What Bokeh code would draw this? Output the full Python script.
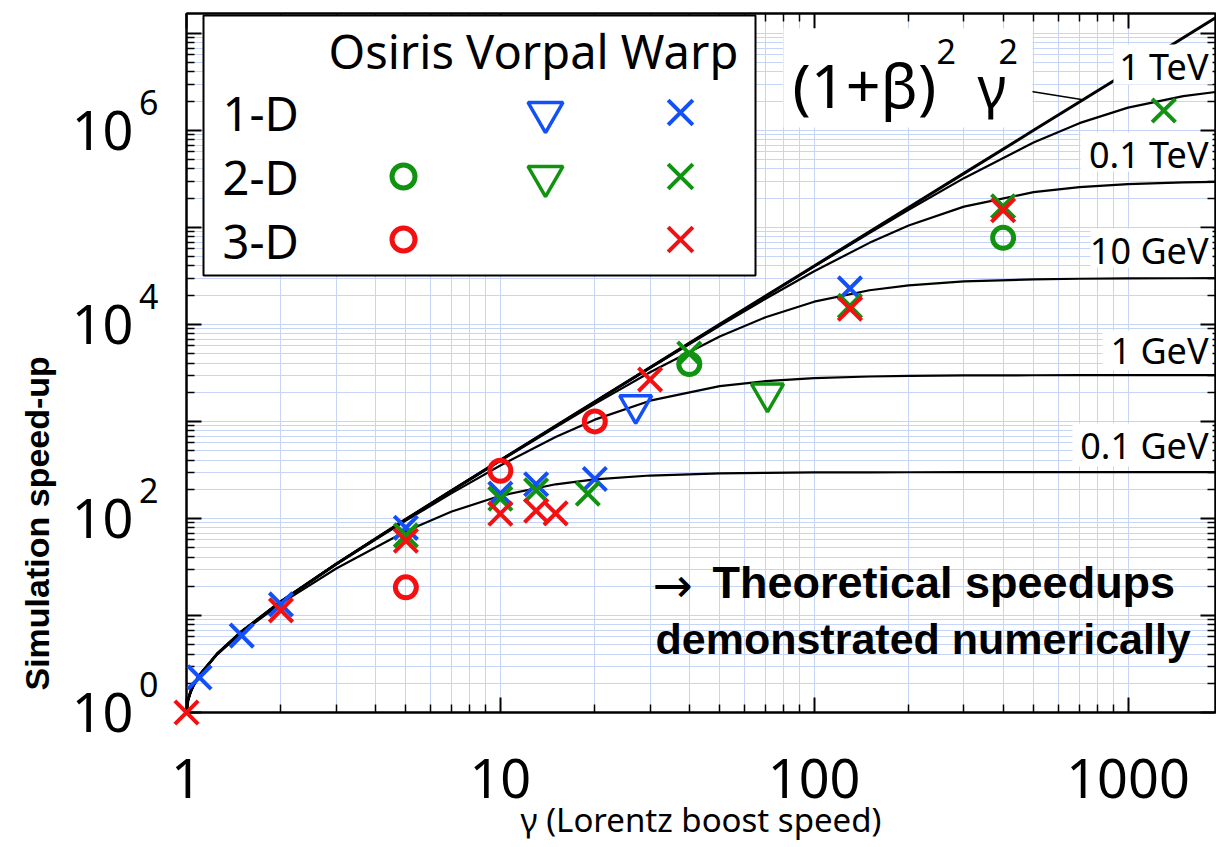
import math
from bokeh.plotting import figure
from bokeh.models import (Range1d, LogAxis, LogScale, FixedTicker, Label, BoxAnnotation,
                          CustomJSTickFormatter, Title)
from bokeh.embed import file_html
from bokeh.resources import INLINE

# ---------------- data ----------------
gamma_grid = [1, 1.01, 1.03, 1.05, 1.1, 1.25, 1.5, 2, 3, 5, 7, 10, 15, 20, 30, 50, 70,
              100, 150, 200, 300, 500, 700, 1000, 1500, 1900]
speedup_ideal = [1, 1.327, 1.63, 1.877, 2.428, 4.0, 6.854, 13.93, 33.97, 98.0, 194.0, 398.0,
                 898, 1598, 3598, 9998, 19598, 39998, 89998, 159998, 359998, 999998,
                 1959998, 3999998, 8999998, 14439998]
speedup_1tev = [1.0, 1.327, 1.63, 1.877, 2.428, 4.0, 6.854, 13.93, 33.97, 98.0, 194.0, 397.9,
                897.7, 1597, 3594, 9965, 19471, 39472, 87377, 151898, 321427, 750000,
                1185484, 1714286, 2250000, 2483945]
speedup_01tev = [1.0, 1.327, 1.63, 1.877, 2.428, 4.0, 6.854, 13.93, 33.97, 97.96, 193.86, 397.5,
                 895.3, 1589.5, 3555, 9676, 18396, 35293, 69230, 104347, 163636, 230769,
                 260177, 279070, 290323, 293894]
speedup_10gev = [1.0, 1.327, 1.63, 1.877, 2.428, 4.0, 6.852, 13.92, 33.93, 97.67, 192.7, 392.8,
                 871.9, 1517, 3213, 7499, 11854, 17143, 22500, 25263, 27692, 29126,
                 29548, 29777, 29900, 29938]
speedup_1gev = [1.0, 1.326, 1.629, 1.876, 2.426, 3.995, 6.838, 13.87, 33.59, 94.88, 182.2, 351.4,
                691.1, 1042.6, 1636, 2307.6, 2601.7, 2790.7, 2903.2, 2944.8, 2975.2, 2991,
                2995.4, 2997.8, 2999, 2999.4]
speedup_01gev = [0.997, 1.321, 1.621, 1.865, 2.409, 3.947, 6.701, 13.31, 30.51, 73.86, 117.8,
                 171.1, 224.9, 252.6, 276.9, 291.3, 295.5, 297.8, 299.0, 299.4, 299.75, 299.9,
                 299.95, 299.98, 299.99, 299.99]

warp1d_gamma = [1.1, 1.5, 2, 5, 10, 13, 20, 130]
warp1d_speedup = [2.3, 6.2, 13, 80, 180, 225, 255, 23500]
warp2d_gamma = [5, 10, 13, 19, 40, 130, 400, 1300]
warp2d_speedup = [67, 160, 195, 180, 5000, 15500, 165000, 1.6e6]
warp3d_gamma = [1, 2, 5, 10, 13, 15, 30, 130, 400]
warp3d_speedup = [1, 11.3, 59, 112, 120, 113, 2700, 14500, 150000]
osiris2d_gamma = [40, 400]
osiris2d_speedup = [3900, 78000]
osiris3d_gamma = [5, 10, 20]
osiris3d_speedup = [19.5, 310, 1000]
vorpal1d_gamma = [27]
vorpal1d_speedup = [1480]
vorpal2d_gamma = [71]
vorpal2d_speedup = [1950]

x_major = [1, 10, 100, 1000]
x_tick_labels = ["1", "10", "100", "1000"]
y_major = [1, 10, 100, 1e3, 1e4, 1e5, 1e6, 1e7]
y_label_ticks = [1, 100, 1e4, 1e6]
y_label_base = ["10", "10", "10", "10"]
y_label_exps = ["0", "2", "4", "6"]
curve_labels = ["1 TeV", "0.1 TeV", "10 GeV", "1 GeV", "0.1 GeV"]

x_minor = [m * 10 ** k for k in range(0, 3) for m in range(2, 10)]
y_minor = [m * 10 ** k for k in range(0, 7) for m in range(2, 10)]

# ---------------- layout ----------------
FL, FT, FW, FH = 186, 13, 1029, 699
XMAX, YMAX = 1900, 1.6e7
BLUE, GREEN, RED = "#1450f5", "#119311", "#f41010"
GRID = "#c6d4f6"
PX_PER_DEC_Y = FH / math.log10(YMAX)


def X(px):
    return 10 ** ((px - FL) / FW * math.log10(XMAX))


def Y(py):
    return 10 ** ((FT + FH - py) / FH * math.log10(YMAX))


p = figure(x_axis_type="log", y_axis_type="log",
           x_range=Range1d(1, XMAX), y_range=Range1d(1, YMAX),
           width=1216, height=847, frame_width=FW, frame_height=FH,
           min_border_left=FL, min_border_right=1, min_border_top=FT, min_border_bottom=135,
           output_backend="svg", toolbar_location=None)
p.background_fill_color = "white"
p.border_fill_color = "white"
p.outline_line_color = "black"
p.outline_line_width = 2

xt = FixedTicker(ticks=x_major, minor_ticks=x_minor)
yt = FixedTicker(ticks=y_major, minor_ticks=y_minor)


def style_axis(ax, blank=True):
    ax.major_tick_in = 15
    ax.major_tick_out = 0
    ax.minor_tick_in = 8
    ax.minor_tick_out = 0
    ax.axis_line_width = 2
    ax.major_tick_line_width = 2
    ax.minor_tick_line_width = 1.5
    if blank:
        ax.major_label_text_font_size = "0px"
        ax.major_label_standoff = 0
        ax.formatter = CustomJSTickFormatter(code="return ''")


# bottom axis: ticks + labels
xa = p.xaxis[0]
xa.ticker = xt
style_axis(xa, blank=False)
xa.major_label_overrides = dict(zip(x_major, x_tick_labels))
xa.major_label_text_font = "Noto Sans"
xa.major_label_text_font_size = "54px"
xa.major_label_text_color = "black"
xa.major_label_standoff = 46
xa.axis_label = "γ (Lorentz boost speed)"
xa.axis_label_text_font = "Noto Sans"
xa.axis_label_text_font_size = "33px"
xa.axis_label_text_font_style = "normal"
xa.axis_label_text_color = "black"
xa.axis_label_standoff = -4

# left axis next to the frame: ticks only
ya = p.yaxis[0]
ya.ticker = yt
style_axis(ya)

# exponent labels (shifted up a bit) and "10" labels
shift_up = 28.0 / PX_PER_DEC_Y
p.extra_y_ranges = {"sup": Range1d(10 ** (-shift_up), YMAX * 10 ** (-shift_up))}
p.extra_y_scales = {"sup": LogScale()}

sup_axis = LogAxis(y_range_name="sup", ticker=FixedTicker(ticks=y_label_ticks, minor_ticks=[]),
                   major_label_overrides=dict(zip(y_label_ticks, y_label_exps)),
                   axis_line_color=None, major_tick_line_color=None, minor_tick_line_color=None,
                   major_tick_out=0, major_tick_in=0, minor_tick_out=0, minor_tick_in=0,
                   major_label_standoff=28, major_label_text_font="Noto Sans",
                   major_label_text_font_size="34px", major_label_text_color="black")
p.add_layout(sup_axis, "left")

ten_axis = LogAxis(ticker=FixedTicker(ticks=y_label_ticks, minor_ticks=[]),
                   major_label_overrides=dict(zip(y_label_ticks, y_label_base)),
                   axis_line_color=None, major_tick_line_color=None, minor_tick_line_color=None,
                   major_tick_out=0, major_tick_in=0, minor_tick_out=0, minor_tick_in=0,
                   major_label_standoff=3, major_label_text_font="Noto Sans",
                   major_label_text_font_size="54px", major_label_text_color="black")
p.add_layout(ten_axis, "left")

ytitle = Title(text="Simulation speed-up", align="left", offset=22,
               text_font="Liberation Sans", text_font_style="bold", text_font_size="34px",
               text_color="black")
if "standoff" in Title.properties():
    ytitle.standoff = 26
p.add_layout(ytitle, "left")

top = LogAxis(ticker=FixedTicker(ticks=x_major, minor_ticks=x_minor))
style_axis(top)
p.add_layout(top, "above")
right = LogAxis(ticker=FixedTicker(ticks=y_major, minor_ticks=y_minor))
style_axis(right)
p.add_layout(right, "right")

p.xgrid.ticker = xt
p.ygrid.ticker = yt
for g in (p.xgrid, p.ygrid):
    g.grid_line_color = GRID
    g.minor_grid_line_color = GRID
    g.grid_line_width = 1
    g.minor_grid_line_width = 1

# ---------------- curves ----------------
p.line(gamma_grid, speedup_ideal, line_color="black", line_width=3)
for c in (speedup_1tev, speedup_01tev, speedup_10gev, speedup_1gev, speedup_01gev):
    p.line(gamma_grid, c, line_color="black", line_width=2.2)

# leader line from the formula label
p.segment(x0=[X(1031)], y0=[Y(91)], x1=[X(1081)], y1=[Y(99)], line_color="black", line_width=1.5)


# ---------------- white label boxes ----------------
def wbox(l, r, t, b, line=None):
    bx = BoxAnnotation(left=X(l), right=X(r), top=Y(t), bottom=Y(b),
                       fill_color="white", fill_alpha=1.0,
                       line_color=line if line else "white",
                       line_alpha=1.0 if line else 0.0, line_width=2)
    p.add_layout(bx)


wbox(203, 755, 15, 275, line="black")           # legend
wbox(783, 1032, 28, 127)                         # formula
box_geo = [(1113, 44, 84), (1080, 132, 171), (1090, 228, 267), (1102, 330, 370), (1072, 423, 466)]
for (l, t, b) in box_geo:
    wbox(l, 1212, t, b)


def lab(text, px, py, size, align="left", font="Noto Sans", style="normal"):
    # py is the vertical centre of the text
    p.add_layout(Label(x=X(px), y=Y(py), text=text, text_font=font,
                       text_font_size=f"{size}px", text_font_style=style,
                       text_align=align, text_baseline="middle", text_color="black"))


# curve labels
label_centres = [66, 154, 250, 350, 445]
for txt, yc in zip(curve_labels, label_centres):
    lab(txt, 1208, yc, 36, align="right")

# formula
lab("(1+β)", 792, 84, 61)
lab("2", 936, 51, 34)
lab("γ", 977, 84, 56)
lab("2", 998, 51, 34)

# legend contents
lab("Osiris Vorpal Warp", 328, 50, 47)
for txt, yc in zip(["1-D", "2-D", "3-D"], [112, 176, 240]):
    lab(txt, 222, yc, 47)

# annotation
lab("→", 652, 584, 48, font="DejaVu Sans")
lab("Theoretical speedups", 712, 582, 45, font="Liberation Sans", style="bold")
lab("demonstrated numerically", 655, 638, 43, font="Liberation Sans", style="bold")

# ---------------- markers ----------------
XS, XW = 33, 4
CS, CW = 21, 5
TS, TW = 32, 3.5
p.scatter(warp1d_gamma, warp1d_speedup, marker="x", size=XS, line_color=BLUE, line_width=XW, level="overlay")
p.scatter(warp2d_gamma, warp2d_speedup, marker="x", size=XS, line_color=GREEN, line_width=XW, level="overlay")
p.scatter(warp3d_gamma, warp3d_speedup, marker="x", size=XS, line_color=RED, line_width=XW, level="overlay")
p.scatter(osiris2d_gamma, osiris2d_speedup, marker="circle", size=CS, fill_color=None,
          line_color=GREEN, line_width=CW, level="overlay")
p.scatter(osiris3d_gamma, osiris3d_speedup, marker="circle", size=CS, fill_color=None,
          line_color=RED, line_width=CW, level="overlay")
p.scatter(vorpal1d_gamma, vorpal1d_speedup, marker="inverted_triangle", size=TS, fill_color=None,
          line_color=BLUE, line_width=TW, level="overlay")
p.scatter(vorpal2d_gamma, vorpal2d_speedup, marker="inverted_triangle", size=TS, fill_color=None,
          line_color=GREEN, line_width=TW, level="overlay")

# legend keys
p.scatter([X(403)], [Y(176)], marker="circle", size=CS + 2, fill_color=None, line_color=GREEN, line_width=CW, level="overlay")
p.scatter([X(403)], [Y(239)], marker="circle", size=CS + 2, fill_color=None, line_color=RED, line_width=CW, level="overlay")
p.scatter([X(545)], [Y(112)], marker="inverted_triangle", size=TS + 3, fill_color=None, line_color=BLUE, line_width=TW, level="overlay")
p.scatter([X(545)], [Y(176)], marker="inverted_triangle", size=TS + 3, fill_color=None, line_color=GREEN, line_width=TW, level="overlay")
p.scatter([X(680)], [Y(112)], marker="x", size=XS + 2, line_color=BLUE, line_width=XW, level="overlay")
p.scatter([X(680)], [Y(176)], marker="x", size=XS + 2, line_color=GREEN, line_width=XW, level="overlay")
p.scatter([X(680)], [Y(239)], marker="x", size=XS + 2, line_color=RED, line_width=XW, level="overlay")

open("out.html", "w").write(file_html(p, INLINE))
